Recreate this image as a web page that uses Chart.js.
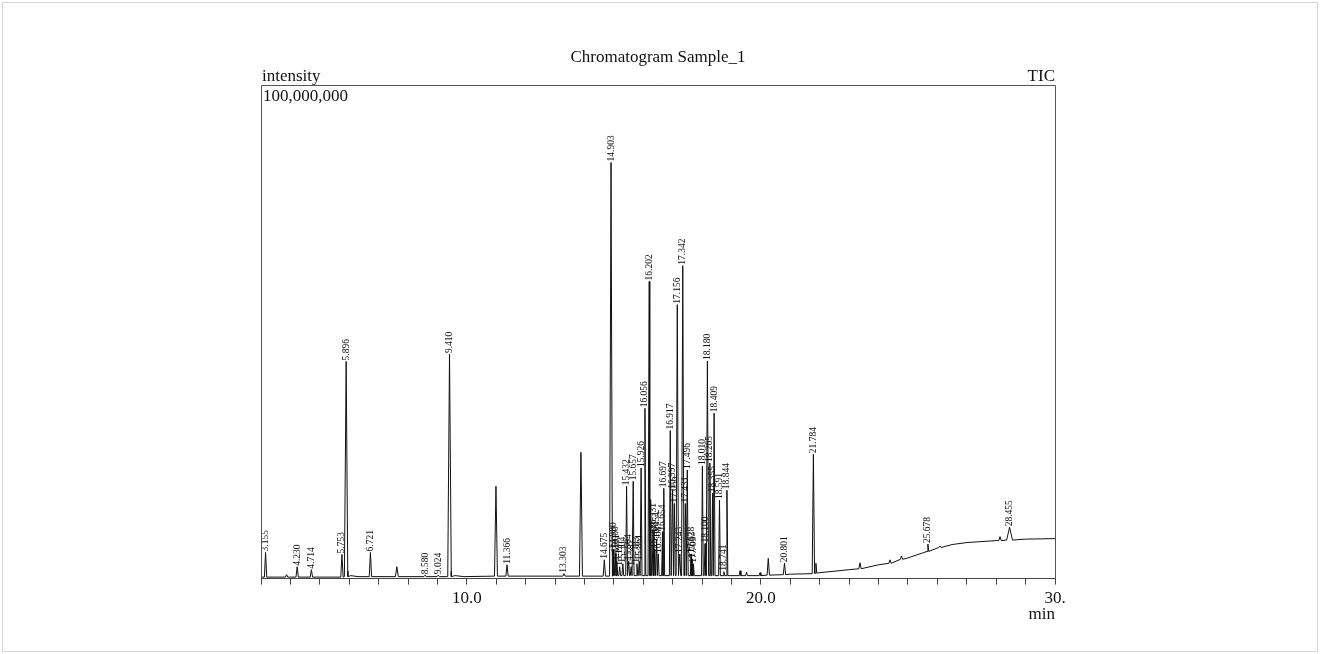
<!DOCTYPE html>
<html>
<head>
<meta charset="utf-8">
<script src="https://cdn.jsdelivr.net/npm/chart.js@4"></script>
<style>
  body { margin: 0; background: #fff; }
  #wrap { width: 1320px; height: 654px; position: relative; }
</style>
</head>
<body>
<div id="wrap"><canvas id="myChart" width="1320" height="654"></canvas></div>
<script>
// retention time (min) and intensity (millions of counts)
const baseTimes = [3.0, 5.95, 6.05, 6.3, 9.47, 9.6, 9.9, 14.5, 15.0, 18.95, 20.0, 21.0, 22.0, 23.0, 24.0, 25.0, 25.5, 26.0, 26.5, 27.0, 28.0, 29.0, 30.0];
const baseLevels = [0.3, 1.5, 0.6, 0.4, 1.5, 0.6, 0.4, 0.5, 0.6, 0.6, 0.7, 0.9, 1.2, 1.8, 2.8, 4.2, 5.2, 6.2, 6.9, 7.3, 7.7, 8.0, 8.1];

const peakTimes = [3.155, 3.87, 4.230, 4.714, 5.753, 5.896, 6.721, 7.62, 8.580, 9.024,
  9.410, 10.99, 11.366, 13.303, 13.88, 14.675, 14.903, 14.980, 15.060, 15.101,
  15.197, 15.304, 15.432, 15.504, 15.587, 15.657, 15.783, 15.861, 15.926, 16.056,
  16.202, 16.25, 16.331, 16.388, 16.454, 16.508, 16.654, 16.697, 16.917, 16.997,
  17.056, 17.156, 17.243, 17.342, 17.431, 17.496, 17.628, 17.663, 17.703, 18.010,
  18.100, 18.180, 18.265, 18.355, 18.409, 18.591, 18.741, 18.844, 19.29, 19.51,
  19.97, 20.25, 20.801, 21.784, 21.87, 23.37, 24.39, 24.78, 25.678, 26.09,
  28.13, 28.455];
const peakHeights = [5.3, 0.8, 2.4, 1.8, 4.9, 44.0, 5.3, 2.4, 0.7, 0.7,
  45.5, 18.7, 2.8, 1.0, 25.6, 3.8, 84.3, 5.9, 5.1, 3.5,
  2.4, 3.0, 18.7, 3.5, 2.4, 19.7, 3.0, 3.5, 22.4, 34.5,
  60.2, 16.0, 9.8, 6.0, 8.0, 5.0, 9.5, 18.3, 30.0, 18.0,
  15.2, 55.5, 5.0, 63.4, 15.2, 22.0, 5.0, 4.0, 3.0, 22.8,
  7.1, 44.1, 23.4, 17.3, 33.5, 15.9, 1.4, 17.9, 1.6, 1.3,
  1.2, 4.1, 3.1, 25.2, 3.1, 3.2, 3.8, 4.6, 7.0, 6.6,
  8.5, 10.4];
const peakBase = [0.3, 0.3, 0.3, 0.3, 0.3, 0.4, 0.4, 0.4, 0.4, 0.4,
  0.4, 0.5, 0.5, 0.5, 0.5, 0.5, 0.5, 0.6, 0.6, 0.6,
  0.6, 0.6, 0.6, 0.6, 0.6, 0.6, 0.6, 0.6, 0.6, 0.6,
  0.6, 0.6, 0.6, 0.6, 0.6, 0.6, 0.6, 0.6, 0.6, 0.6,
  0.6, 0.6, 0.6, 0.6, 0.6, 0.6, 0.6, 0.6, 0.6, 0.6,
  0.6, 0.6, 0.6, 0.6, 0.6, 0.6, 0.6, 0.6, 0.6, 0.6,
  0.6, 0.7, 0.8, 1.0, 1.1, 2.0, 3.1, 3.9, 5.5, 6.3,
  7.7, 7.8];
const peakWidths = [0.04, 0.04, 0.04, 0.04, 0.04, 0.06, 0.04, 0.05, 0.04, 0.04,
  0.06, 0.05, 0.04, 0.04, 0.05, 0.04, 0.05, 0.03, 0.03, 0.03,
  0.03, 0.03, 0.03, 0.03, 0.03, 0.03, 0.03, 0.03, 0.03, 0.03,
  0.04, 0.03, 0.03, 0.03, 0.03, 0.03, 0.03, 0.03, 0.03, 0.03,
  0.03, 0.04, 0.03, 0.04, 0.03, 0.03, 0.03, 0.03, 0.03, 0.03,
  0.03, 0.04, 0.03, 0.03, 0.03, 0.03, 0.03, 0.03, 0.03, 0.03,
  0.03, 0.04, 0.04, 0.04, 0.03, 0.04, 0.04, 0.04, 0.03, 0.04,
  0.04, 0.1];
const peakLabels = ['3.155', '', '4.230', '4.714', '5.753', '5.896', '6.721', '', '8.580', '9.024',
  '9.410', '', '11.366', '13.303', '', '14.675', '14.903', '14.980', '15.060', '15.101',
  '15.197', '15.304', '15.432', '15.504', '15.587', '15.657', '15.783', '15.861', '15.926', '16.056',
  '16.202', '', '16.331', '16.388', '16.454', '16.508', '16.654', '16.697', '16.917', '16.997',
  '17.056', '17.156', '17.243', '17.342', '17.431', '17.496', '17.628', '17.663', '17.703', '18.010',
  '18.100', '18.180', '18.265', '18.355', '18.409', '18.591', '18.741', '18.844', '', '',
  '', '', '20.801', '21.784', '', '', '', '', '25.678', '',
  '', '28.455'];

const xTickValues = [10, 20, 30];
const xTickLabels = ['10.0', '20.0', '30.'];

const serif = '"Liberation Serif", "DejaVu Serif", serif';

function buildTrace() {
  const points = [];
  baseTimes.forEach((t, i) => points.push({ x: t, y: baseLevels[i] }));
  peakTimes.forEach((t, i) => {
    const w = peakWidths[i];
    points.push({ x: t - w, y: peakBase[i] });
    points.push({ x: t, y: peakHeights[i] });
    points.push({ x: t + w, y: peakBase[i] });
  });
  points.sort((a, b) => a.x - b.x);
  return points;
}

const peakLabelPlugin = {
  id: 'peakLabels',
  afterDatasetsDraw(chart) {
    const ctx = chart.ctx;
    const xs = chart.scales.x;
    const ys = chart.scales.y;
    ctx.save();
    ctx.fillStyle = '#111';
    ctx.font = '9.5px ' + serif;
    ctx.textAlign = 'left';
    ctx.textBaseline = 'middle';
    peakTimes.forEach((t, i) => {
      if (!peakLabels[i]) return;
      const px = xs.getPixelForValue(t);
      const py = ys.getPixelForValue(peakHeights[i]);
      ctx.save();
      ctx.translate(px, py - 1);
      ctx.rotate(-Math.PI / 2);
      ctx.fillText(peakLabels[i], 0, 0);
      ctx.restore();
    });
    ctx.restore();
  }
};

const framePlugin = {
  id: 'frame',
  afterDraw(chart) {
    const ctx = chart.ctx;
    const a = chart.chartArea;
    ctx.save();
    ctx.strokeStyle = '#555';
    ctx.lineWidth = 1;
    ctx.beginPath();
    ctx.moveTo(a.left + 0.5, a.bottom);
    ctx.lineTo(a.left + 0.5, a.top + 0.5);
    ctx.lineTo(a.right + 0.5, a.top + 0.5);
    ctx.lineTo(a.right + 0.5, a.bottom);
    ctx.stroke();

    ctx.strokeStyle = '#d6d6d6';
    ctx.strokeRect(2.5, 2.5, chart.width - 5, chart.height - 5);

    ctx.fillStyle = '#111';
    ctx.font = '17px ' + serif;
    ctx.textBaseline = 'middle';
    ctx.textAlign = 'center';
    ctx.fillText('Chromatogram Sample_1', (a.left + a.right) / 2, 58);
    ctx.textAlign = 'left';
    ctx.fillText('intensity', a.left + 1, 77);
    ctx.fillText('100,000,000', a.left + 2, a.top + 12);
    ctx.textAlign = 'right';
    ctx.fillText('TIC', a.right, 77);
    ctx.fillText('min', a.right, 615);
    ctx.restore();
  }
};

function createChart() {
  const ctx = document.getElementById('myChart');
  new Chart(ctx, {
    type: 'line',
    data: {
      datasets: [{
        data: buildTrace(),
        borderColor: '#111',
        borderWidth: 1,
        pointRadius: 0,
        tension: 0,
        fill: false
      }]
    },
    options: {
      responsive: false,
      animation: false,
      devicePixelRatio: 1,
      layout: { padding: { left: 261, right: 265, top: 85, bottom: 41 } },
      plugins: {
        legend: { display: false },
        title: { display: false },
        tooltip: { enabled: false }
      },
      scales: {
        x: {
          type: 'linear',
          min: 3,
          max: 30,
          border: { display: true, color: '#444', width: 1 },
          grid: { drawOnChartArea: false, drawTicks: true, tickLength: 6, color: '#444' },
          ticks: {
            stepSize: 1,
            autoSkip: false,
            maxRotation: 0,
            minRotation: 0,
            padding: 4,
            color: '#111',
            font: { family: serif, size: 17 },
            callback: (v) => {
              const k = xTickValues.indexOf(v);
              return k >= 0 ? xTickLabels[k] : '';
            }
          }
        },
        y: {
          display: false,
          min: 0,
          max: 100
        }
      }
    },
    plugins: [peakLabelPlugin, framePlugin]
  });
}

createChart();
</script>
</body>
</html>
